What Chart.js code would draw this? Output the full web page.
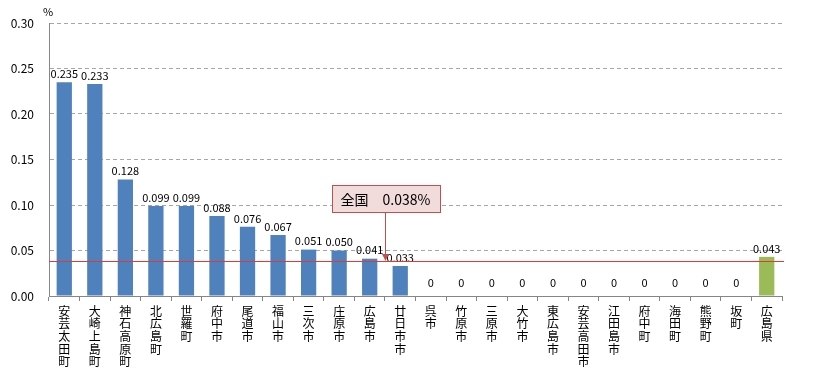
<!DOCTYPE html>
<html><head><meta charset="utf-8">
<script src="https://cdn.jsdelivr.net/npm/chart.js@4/dist/chart.umd.min.js"></script>
<style>html,body{margin:0;padding:0;background:#fff}#wrap{width:813px;height:379px;position:relative}</style>
</head><body><div id="wrap"><canvas id="c" width="813" height="379"></canvas></div>
<script>
const categories = ["安芸太田町","大崎上島町","神石高原町","北広島町","世羅町","府中市","尾道市","福山市","三次市","庄原市","広島市","廿日市市","呉市","竹原市","三原市","大竹市","東広島市","安芸高田市","江田島市","府中町","海田町","熊野町","坂町","広島県"];
const values = [0.235,0.233,0.128,0.099,0.099,0.088,0.076,0.067,0.051,0.050,0.041,0.033,0,0,0,0,0,0,0,0,0,0,0,0.043];
const nationalValue = 0.038;
const nationalLabel = "全国　0.038%";
const yTicks = [0,0.05,0.10,0.15,0.20,0.25,0.30];
const unitLabel = "%";

const FONT = "'Noto Sans CJK JP','DejaVu Sans',sans-serif";
const colors = categories.map(c => c === "広島県" ? "#9BBB59" : "#4F81BD");

const overlay = {
  id: 'overlay',
  afterDatasetsDraw(chart) {
    const ctx = chart.ctx, xs = chart.scales.x, ys = chart.scales.y, ca = chart.chartArea;
    const meta = chart.getDatasetMeta(0);
    ctx.save();
    ctx.font = "11px " + FONT;
    ctx.fillStyle = "#000";
    ctx.textAlign = "center";
    ctx.textBaseline = "bottom";
    meta.data.forEach((bar, i) => {
      const v = values[i];
      const t = v === 0 ? "0" : v.toFixed(3);
      const y = v === 0 ? bar.y - 8 : bar.y - 3;
      ctx.fillText(t, bar.x, y);
    });
    // national line
    const ly = Math.round(ys.getPixelForValue(nationalValue));
    ctx.fillStyle = "#E03A36";
    ctx.fillRect(ca.left, ly, ca.right - ca.left + 2, 1);
    // annotation box
    const cx = Math.round(xs.getPixelForValue(10.5)) + 0.5;
    const bw = 108, bh = 27;
    const by = Math.round(ys.getPixelForValue(0.122)) + 0.5;
    const bx = Math.round(cx - bw / 2) + 0.5;
    ctx.fillStyle = "#F2DCDB";
    ctx.fillRect(bx, by, bw, bh);
    ctx.strokeStyle = "#C0504D";
    ctx.lineWidth = 1;
    ctx.strokeRect(bx, by, bw, bh);
    ctx.beginPath(); ctx.moveTo(cx, by + bh); ctx.lineTo(cx, ly - 6); ctx.stroke();
    ctx.fillStyle = "#C0504D";
    ctx.beginPath(); ctx.moveTo(cx - 3.5, ly - 7); ctx.lineTo(cx + 3.5, ly - 7); ctx.lineTo(cx, ly); ctx.closePath(); ctx.fill();
    ctx.fillStyle = "#000";
    ctx.font = "14px " + FONT;
    ctx.textAlign = "center";
    ctx.textBaseline = "middle";
    ctx.fillText(nationalLabel, cx, by + bh / 2 + 1);
    ctx.font = "11px " + FONT;
    ctx.fillText(unitLabel, 48, 12);
    ctx.restore();
  }
};

new Chart(document.getElementById('c'), {
  type: 'bar',
  data: {
    labels: categories.map(c => c.split("")),
    datasets: [{ data: values, backgroundColor: colors, barPercentage: 0.5, categoryPercentage: 1.0 }]
  },
  options: {
    responsive: false,
    animation: false,
    events: [],
    layout: { padding: { top: 23, right: 31, left: 0, bottom: 0 } },
    plugins: { legend: { display: false }, tooltip: { enabled: false } },
    scales: {
      x: {
        grid: { display: true, offset: true, drawOnChartArea: false, drawTicks: true, tickLength: 5, color: '#868686' },
        border: { color: '#868686' },
        ticks: { autoSkip: false, maxRotation: 0, minRotation: 0, padding: 4, color: '#000', font: { family: FONT, size: 12, lineHeight: 1.05 } },
        afterFit(s) { s.height = 83; }
      },
      y: {
        min: 0, max: 0.30,
        afterBuildTicks(s) { s.ticks = yTicks.map(v => ({ value: v })); },
        grid: { color: '#A6A6A6', drawTicks: false },
        border: { color: '#868686', dash: [4, 3] },
        ticks: { padding: 15, color: '#000', font: { family: FONT, size: 12 }, callback: v => v.toFixed(2) },
        afterFit(s) { s.width = 49; }
      }
    }
  },
  plugins: [overlay]
});
</script></body></html>
